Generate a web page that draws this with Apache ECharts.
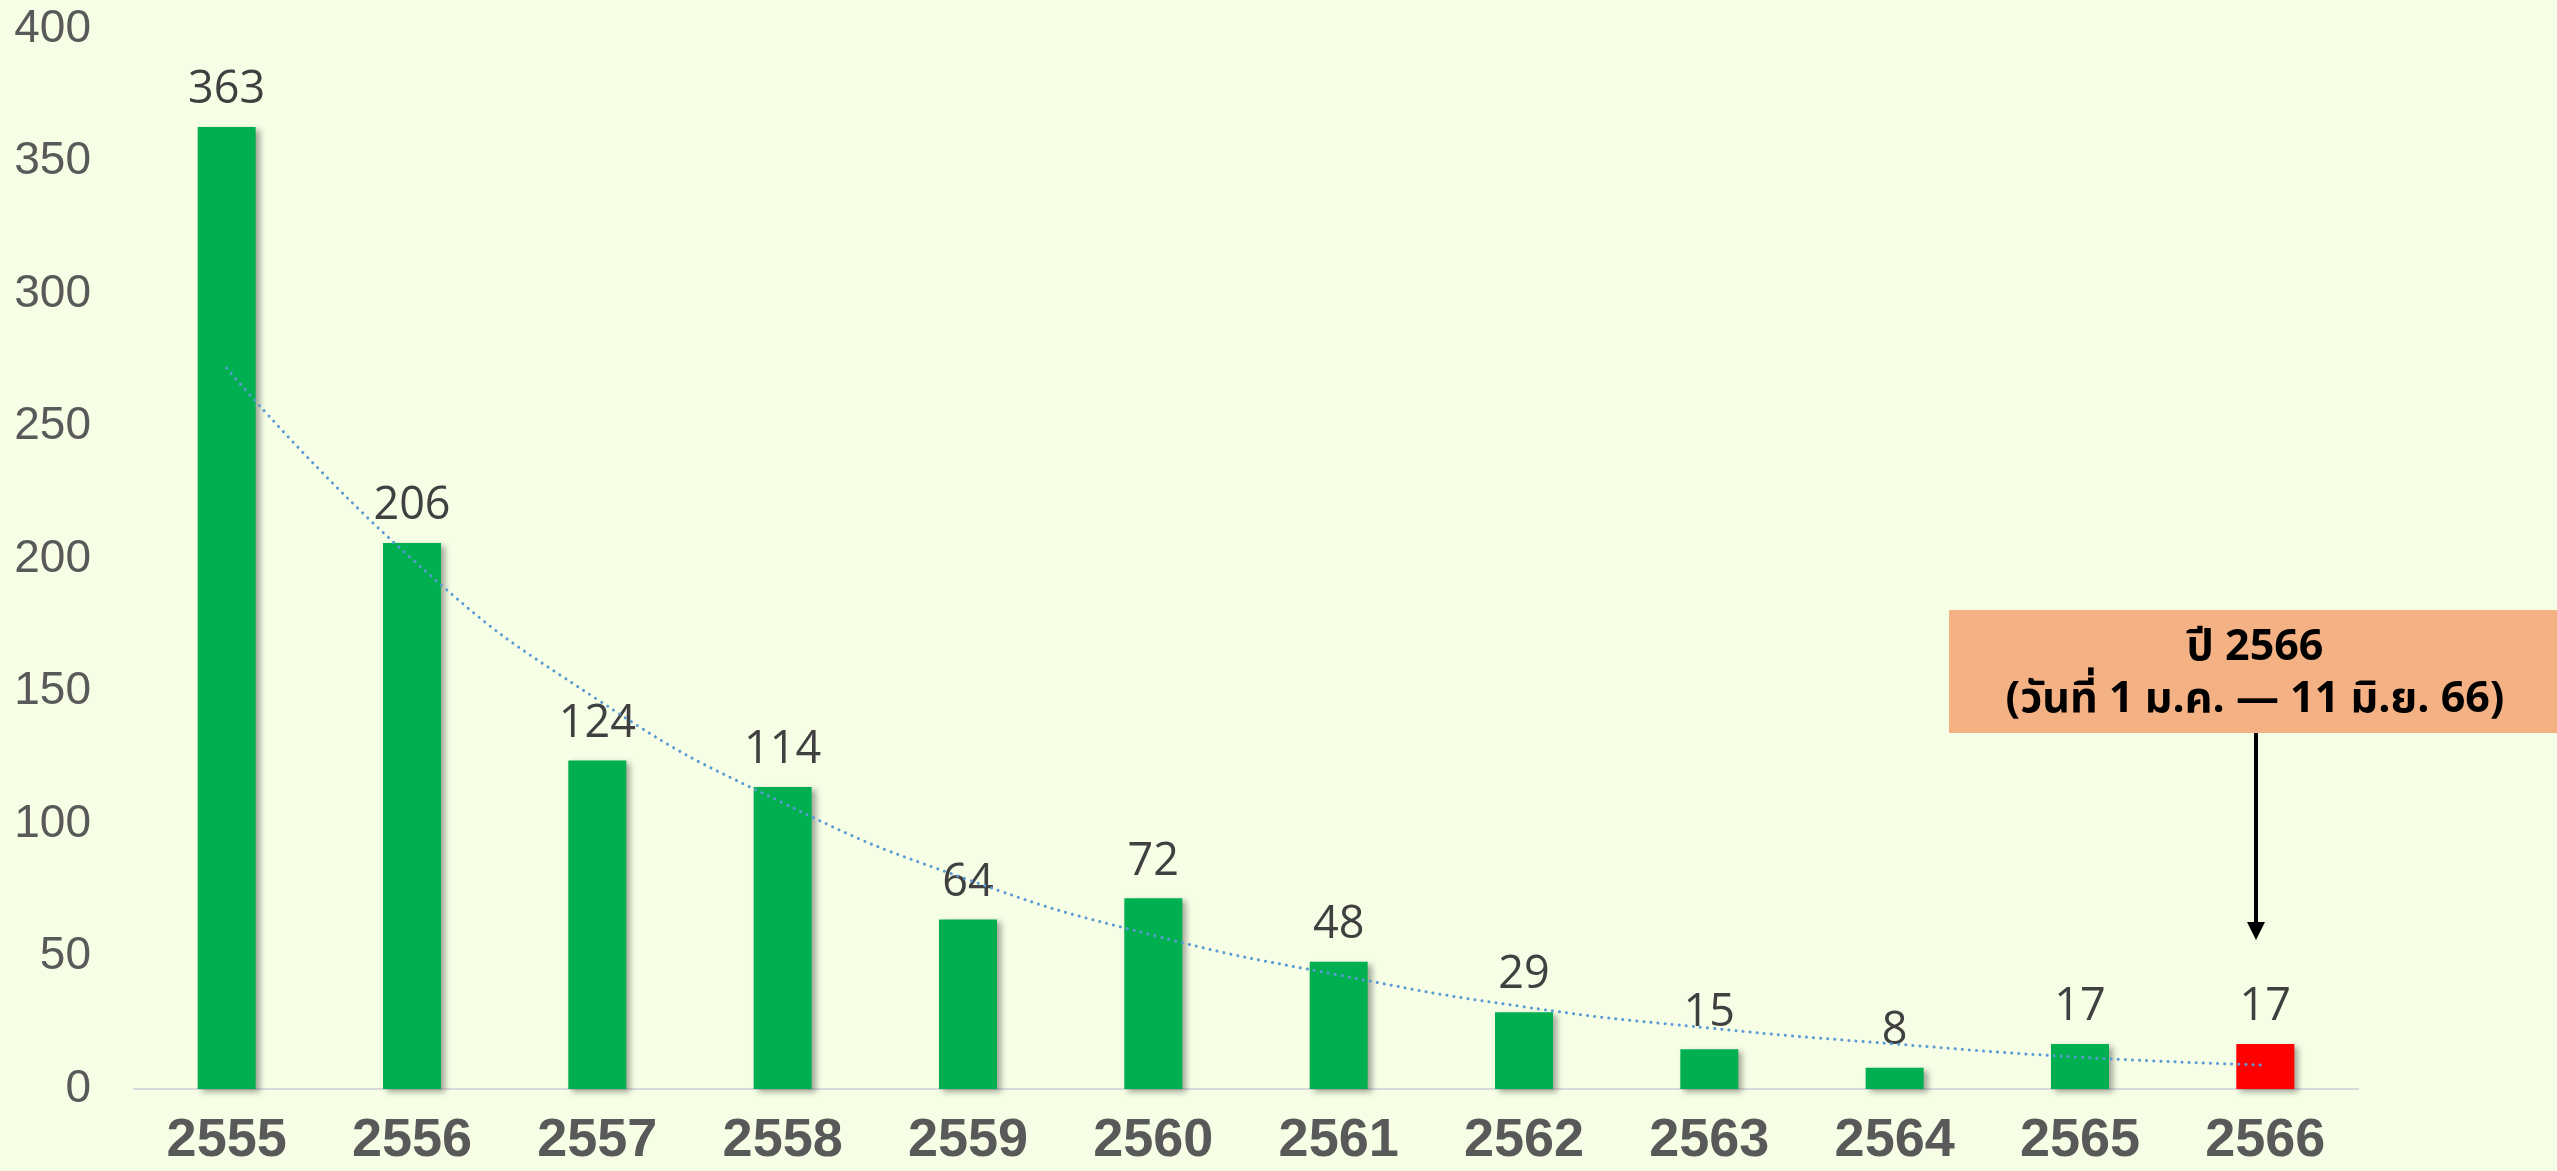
<!DOCTYPE html>
<html>
<head>
<meta charset="utf-8">
<script src="https://cdn.jsdelivr.net/npm/echarts@6/dist/echarts.min.js"></script>
<style>
html,body{margin:0;padding:0;background:#F7FEE6;}
#chart{width:2557px;height:1171px;}
</style>
</head>
<body>
<div id="chart"></div>
<script>
// ---- data ----
const years = ['2555','2556','2557','2558','2559','2560','2561','2562','2563','2564','2565','2566'];
const cases = [363, 206, 124, 114, 64, 72, 48, 29, 15, 8, 17, 17];
// dotted trend line values at each year
const trend = [272, 200, 147, 108, 79, 58, 43, 31, 23, 17, 12, 9];
const yTicks = [0, 50, 100, 150, 200, 250, 300, 350, 400];
const highlightYear = '2566';
const noteLines = ['ปี 2566', '(วันที่ 1 ม.ค. — 11 มิ.ย. 66)'];

const chart = echarts.init(document.getElementById('chart'), null, {renderer: 'canvas'});

const thaiFont = "'Noto Sans Thai','Noto Sans Thai Looped','Loma','Tahoma','Noto Sans','DejaVu Sans',sans-serif";

const barData = cases.map((v, i) => ({
  value: v,
  itemStyle: years[i] === highlightYear ? {color: '#FF0000'} : undefined
}));

const option = {
  backgroundColor: '#F7FEE6',
  animation: false,
  grid: {left: 134, right: 199, top: 29, bottom: 82, containLabel: false},
  xAxis: {
    type: 'category',
    data: years,
    axisLine: {show: true, lineStyle: {color: '#D9D9D9', width: 2}},
    axisTick: {show: false},
    axisLabel: {
      color: '#595959',
      fontFamily: "'Liberation Sans Narrow','Arial Narrow','Liberation Sans',sans-serif",
      fontWeight: 'bold',
      fontSize: 54,
      margin: 25
    }
  },
  yAxis: {
    type: 'value',
    min: yTicks[0],
    max: yTicks[yTicks.length - 1],
    interval: yTicks[1] - yTicks[0],
    axisLine: {show: false},
    axisTick: {show: false},
    splitLine: {show: false},
    axisLabel: {
      color: '#595959',
      fontFamily: "'Liberation Sans',Arial,sans-serif",
      fontSize: 46,
      margin: 43
    }
  },
  series: [
    {
      type: 'bar',
      data: barData,
      barWidth: 58,
      itemStyle: {
        color: '#00B050',
        shadowColor: 'rgba(0,0,0,0.35)',
        shadowBlur: 6,
        shadowOffsetX: 4,
        shadowOffsetY: 3
      },
      label: {
        show: true,
        position: 'top',
        distance: 14,
        color: '#404040',
        fontFamily: "'Open Sans','Noto Sans',sans-serif",
        fontSize: 45
      },
      z: 2
    },
    {
      type: 'line',
      data: trend,
      smooth: 0.5,
      symbol: 'none',
      lineStyle: {
        color: '#5B9BD5',
        width: 3,
        type: [0.1, 7],
        cap: 'round'
      },
      z: 5,
      silent: true
    }
  ],
  graphic: [
    {
      type: 'rect',
      shape: {x: 1949, y: 610, width: 608, height: 123},
      style: {fill: '#F4B183'},
      z: 10
    },
    {
      type: 'text',
      x: 2255, y: 651,
      style: {
        text: noteLines[0],
        fill: '#000000',
        font: "bold 43px " + thaiFont,
        textAlign: 'center',
        textVerticalAlign: 'middle'
      },
      z: 11
    },
    {
      type: 'text',
      x: 2255, y: 703,
      style: {
        text: noteLines[1],
        fill: '#000000',
        font: "bold 43px " + thaiFont,
        textAlign: 'center',
        textVerticalAlign: 'middle'
      },
      z: 11
    },
    {
      type: 'line',
      shape: {x1: 2256, y1: 733, x2: 2256, y2: 926},
      style: {stroke: '#000000', lineWidth: 4},
      z: 10
    },
    {
      type: 'polygon',
      shape: {points: [[2247, 922], [2265, 922], [2256, 940]]},
      style: {fill: '#000000'},
      z: 10
    }
  ]
};

chart.setOption(option);
</script>
</body>
</html>
